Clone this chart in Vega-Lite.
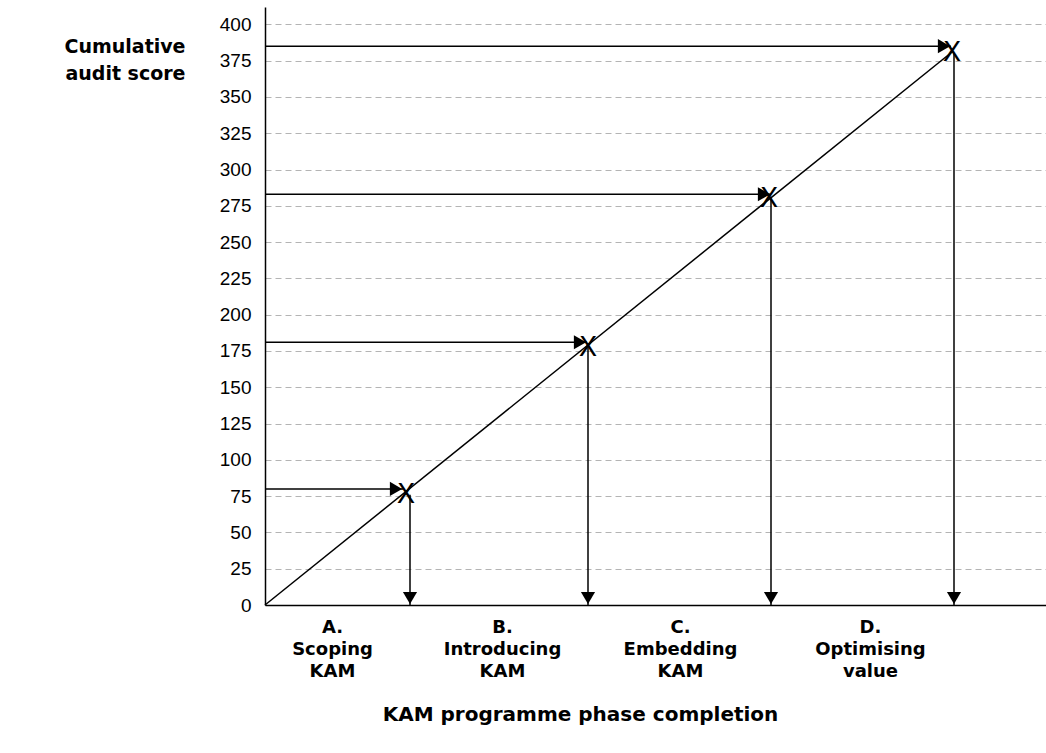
{
  "$schema": "https://vega.github.io/schema/vega-lite/v6.json",
  "autosize": "none",
  "width": 781,
  "height": 598,
  "padding": {"left": 265, "top": 7, "right": 0, "bottom": 148},
  "background": "white",
  "config": {
    "view": {"stroke": null},
    "font": "DejaVu Sans"
  },
  "datasets": {
    "phases": [
      {"phase": "A", "xStart": 0, "xTip": 138, "yArrow": 80, "xMark": 141, "yMark": 76, "xVert": 145, "yBase": 0},
      {"phase": "B", "xStart": 0, "xTip": 322, "yArrow": 181, "xMark": 323, "yMark": 177, "xVert": 323, "yBase": 0},
      {"phase": "C", "xStart": 0, "xTip": 506, "yArrow": 283, "xMark": 504, "yMark": 280, "xVert": 506, "yBase": 0},
      {"phase": "D", "xStart": 0, "xTip": 686, "yArrow": 385, "xMark": 687, "yMark": 380, "xVert": 689, "yBase": 0}
    ],
    "diag": [
      {"x": 0, "y": 0},
      {"x": 687, "y": 381}
    ]
  },
  "layer": [
    {
      "data": {"name": "diag"},
      "mark": {"type": "line", "color": "black", "strokeWidth": 1.5},
      "encoding": {
        "x": {
          "field": "x", "type": "quantitative",
          "scale": {"domain": [0, 781], "nice": false, "zero": false},
          "axis": {
            "values": [67, 237, 415, 605],
            "tickCount": 10,
            "labelExpr": "datum.value == 67 ? ['A.','Scoping','KAM'] : datum.value == 237 ? ['B.','Introducing','KAM'] : datum.value == 415 ? ['C.','Embedding','KAM'] : ['D.','Optimising','value']",
            "labelOverlap": false,
            "ticks": false,
            "grid": false,
            "domainColor": "black",
            "domainWidth": 1.5,
            "labelFont": "DejaVu Sans",
            "labelFontSize": 18,
            "labelFontWeight": "bold",
            "labelColor": "black",
            "labelLineHeight": 22,
            "labelPadding": 13,
            "labelBaseline": "top",
            "title": "KAM programme phase completion",
            "titleFont": "DejaVu Sans",
            "titleFontSize": 20,
            "titleFontWeight": "bold",
            "titleColor": "black",
            "titleX": 315,
            "titleY": 115,
            "titleAlign": "center",
            "titleBaseline": "alphabetic"
          }
        },
        "y": {
          "field": "y", "type": "quantitative",
          "scale": {"domain": [0, 412], "nice": false},
          "axis": {
            "values": [0, 25, 50, 75, 100, 125, 150, 175, 200, 225, 250, 275, 300, 325, 350, 375, 400],
            "tickCount": 20,
            "labelOverlap": false,
            "ticks": false,
            "grid": true,
            "gridColor": "#b4b4b4",
            "gridDash": [6, 4],
            "gridWidth": 1,
            "domainColor": "black",
            "domainWidth": 1.5,
            "labelFont": "Liberation Sans",
            "labelFontSize": 19,
            "labelColor": "black",
            "labelPadding": 14,
            "title": ["Cumulative", "audit score"],
            "titleFont": "DejaVu Sans",
            "titleFontSize": 19,
            "titleFontWeight": "bold",
            "titleColor": "black",
            "titleAngle": 0,
            "titleAlign": "right",
            "titleBaseline": "alphabetic",
            "titleX": -80,
            "titleY": 45,
            "titleLineHeight": 27
          }
        }
      }
    },
    {
      "data": {"name": "phases"},
      "mark": {"type": "rule", "color": "black", "strokeWidth": 1.5},
      "encoding": {
        "x": {"field": "xStart", "type": "quantitative"},
        "x2": {"field": "xTip"},
        "y": {"field": "yArrow", "type": "quantitative"}
      }
    },
    {
      "data": {"name": "phases"},
      "mark": {"type": "point", "shape": "triangle-right", "filled": true, "color": "black", "opacity": 1, "size": 200, "xOffset": -7},
      "encoding": {
        "x": {"field": "xTip", "type": "quantitative"},
        "y": {"field": "yArrow", "type": "quantitative"}
      }
    },
    {
      "data": {"name": "phases"},
      "mark": {"type": "rule", "color": "black", "strokeWidth": 1.5},
      "encoding": {
        "x": {"field": "xVert", "type": "quantitative"},
        "y": {"field": "yMark", "type": "quantitative"},
        "y2": {"field": "yBase"}
      }
    },
    {
      "data": {"name": "phases"},
      "mark": {"type": "point", "shape": "triangle-down", "filled": true, "color": "black", "opacity": 1, "size": 200, "yOffset": -7},
      "encoding": {
        "x": {"field": "xVert", "type": "quantitative"},
        "y": {"field": "yBase", "type": "quantitative"}
      }
    },
    {
      "data": {"name": "phases"},
      "mark": {"type": "text", "text": "X", "font": "DejaVu Sans", "fontSize": 27, "color": "black", "align": "center", "baseline": "middle"},
      "encoding": {
        "x": {"field": "xMark", "type": "quantitative"},
        "y": {"field": "yMark", "type": "quantitative"}
      }
    }
  ]
}
